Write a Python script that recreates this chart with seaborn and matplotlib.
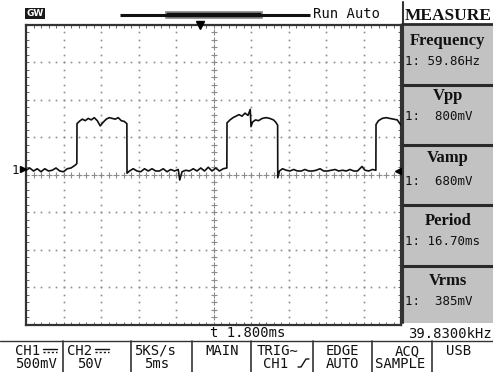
import numpy as np
import pandas as pd
import matplotlib
matplotlib.use("Agg")
import matplotlib.pyplot as plt
import seaborn as sns
from matplotlib.patches import Rectangle

# ---------------- data (time in ms, voltage in V) ----------------
t_base1 = [0.0, 0.5, 1.0, 1.5, 2.0, 2.5, 3.0, 3.5, 4.0, 4.5, 5.0, 5.5, 6.0, 6.3, 6.6, 6.78]
v_base1 = [0.06, 0.09, 0.05, 0.08, 0.04, 0.08, 0.05, 0.06, 0.09, 0.05, 0.04, 0.08, 0.09, 0.11, 0.13, 0.15]

t_pulse1 = [6.80, 7.1, 7.5, 7.9, 8.3, 8.7, 9.1, 9.5, 9.9, 10.3, 10.7, 11.1, 11.5, 11.9, 12.3, 12.7, 13.1, 13.45]
v_pulse1 = [0.68, 0.71, 0.74, 0.72, 0.75, 0.73, 0.76, 0.72, 0.65, 0.70, 0.74, 0.76, 0.75, 0.74, 0.76, 0.72, 0.71, 0.68]

t_base2 = [13.47, 13.8, 14.3, 14.8, 15.3, 15.8, 16.3, 16.8, 17.3, 17.8, 18.3, 18.8, 19.3, 19.8, 20.3,
           20.5, 20.8, 21.3, 21.8, 22.3, 22.8, 23.3, 23.8, 24.3, 24.8, 25.3, 25.8, 26.3, 26.78]
v_base2 = [0.02, 0.05, 0.08, 0.05, 0.04, 0.08, 0.05, 0.08, 0.05, 0.05, 0.08, 0.04, 0.07, 0.05, 0.07,
           -0.07, 0.04, 0.06, 0.05, 0.08, 0.05, 0.09, 0.05, 0.10, 0.05, 0.09, 0.05, 0.08, 0.09]

t_pulse2 = [26.80, 27.2, 27.6, 28.0, 28.4, 28.8, 29.2, 29.6, 29.9, 30.0, 30.2, 30.6, 31.0, 31.5, 32.0, 32.5, 33.0, 33.3, 33.55]
v_pulse2 = [0.69, 0.73, 0.76, 0.78, 0.80, 0.78, 0.82, 0.79, 0.87, 0.64, 0.70, 0.73, 0.72, 0.75, 0.76, 0.75, 0.73, 0.70, 0.66]

t_base3 = [33.57, 33.8, 34.2, 34.7, 35.2, 35.7, 36.2, 36.7, 37.2, 37.7, 38.2, 38.7, 39.2, 39.7, 40.2, 40.7, 41.2,
           41.7, 42.2, 42.7, 43.2, 43.7, 44.2, 44.8, 45.2, 45.7, 46.2, 46.65]
v_base3 = [-0.04, 0.05, 0.08, 0.06, 0.05, 0.07, 0.05, 0.05, 0.07, 0.05, 0.05, 0.06, 0.08, 0.05, 0.05, 0.06, 0.07,
           0.05, 0.06, 0.05, 0.07, 0.05, 0.05, 0.11, 0.06, 0.05, 0.07, 0.06]

t_pulse3 = [46.67, 47.0, 47.5, 48.0, 48.5, 49.0, 49.5, 50.0]
v_pulse3 = [0.67, 0.72, 0.75, 0.76, 0.75, 0.74, 0.73, 0.66]

trigger_pos_ms = 23.2     # 1.800 ms left of centre
trigger_level_v = 0.05
ground_level_v = 0.07

measure_titles = ["Frequency", "Vpp", "Vamp", "Period", "Vrms"]
measure_values = ["1: 59.86Hz", "1:  800mV", "1:  680mV", "1: 16.70ms", "1:  385mV"]

bottom_top = ["CH1", "CH2", "5KS/s", "MAIN", "TRIG\u223c", "EDGE", "ACQ", "USB"]
bottom_bot = ["500mV", "50V", "5ms", "", "CH1", "AUTO", "SAMPLE", ""]

# ---------------- figure ----------------
sns.set_theme(style="white")
plt.rcParams["font.family"] = ["DejaVu Sans"]
MONO = ["DejaVu Sans Mono", "DejaVu Sans"]
SERIF = ["Liberation Serif", "DejaVu Serif"]

W, H = 493, 372
fig = plt.figure(figsize=(W / 100, H / 100), dpi=100)
fig.patch.set_facecolor("white")

ax = fig.add_axes([26 / W, 1 - 325 / H, 375 / W, 300.5 / H])
ax.set_facecolor("white")
ax.set_xlim(0, 50)
ax.set_ylim(-2, 2)

# graticule
dot_c = "#8c8c8c"
yy = np.arange(-2, 2.001, 0.1)
xx = np.arange(0, 50.001, 1.0)
for xv in [5, 10, 15, 20, 30, 35, 40, 45]:
    ax.plot(np.full_like(yy, xv), yy, ls="none", marker="s", ms=1.2, color=dot_c, mew=0, zorder=1)
for yv in [-1.5, -1.0, -0.5, 0.5, 1.0, 1.5]:
    ax.plot(xx, np.full_like(xx, yv), ls="none", marker="s", ms=1.2, color=dot_c, mew=0, zorder=1)
ax.plot(np.full_like(yy, 25), yy, ls="none", marker="+", ms=4, mew=0.8, color=dot_c, zorder=1)
ax.plot(xx, np.zeros_like(xx), ls="none", marker="+", ms=4, mew=0.8, color=dot_c, zorder=1)

for s in ax.spines.values():
    s.set_color("#333333")
    s.set_linewidth(1.6)
ax.set_xticks(np.arange(0, 50.001, 1.0))
ax.set_yticks(np.arange(-2, 2.001, 0.1))
ax.tick_params(direction="in", length=2.5, width=0.7, color="#666666",
               top=True, right=True, bottom=True, left=True,
               labelbottom=False, labelleft=False)
ax.grid(False)

# trace
t_all = t_base1 + t_pulse1 + t_base2 + t_pulse2 + t_base3 + t_pulse3
v_all = v_base1 + v_pulse1 + v_base2 + v_pulse2 + v_base3 + v_pulse3
df = pd.DataFrame({"time_ms": t_all, "volt": v_all})
sns.lineplot(data=df, x="time_ms", y="volt", ax=ax, estimator=None, sort=False,
             color="#111111", lw=1.2, zorder=4)
ax.set_xlabel("")
ax.set_ylabel("")

# markers
ax.plot(trigger_pos_ms, 2.0, marker="v", ms=6, color="black", clip_on=False, zorder=6)
ax.plot(-0.35, ground_level_v, marker=">", ms=5, color="black", clip_on=False, zorder=6)
ax.plot(49.7, trigger_level_v, marker="<", ms=6, color="black", clip_on=False, zorder=6)

# ---------------- overlay in pixel coordinates ----------------
ov = fig.add_axes([0, 0, 1, 1])
ov.set_xlim(0, W)
ov.set_ylim(H, 0)
ov.axis("off")

ov.text(15, 171, "1", family=MONO, fontsize=9, ha="center", va="center", color="#111")

# top bar
ov.add_patch(Rectangle((25, 8), 20, 11, facecolor="#1a1a1a", edgecolor="none"))
ov.text(35, 13.8, "GW", family=["DejaVu Sans"], fontsize=6.5, fontweight="bold",
        color="white", ha="center", va="center")
ov.plot([120, 310], [14.8, 14.8], color="#111", lw=2.2, solid_capstyle="butt")
ov.add_patch(Rectangle((166, 11.5), 96, 6.5, facecolor="#111", edgecolor="#888", lw=1.2))
ov.text(313, 18.5, "Run Auto", family=MONO, fontsize=10, ha="left", va="baseline", color="#111")

# right measure panel
ov.add_patch(Rectangle((403, 24), 90, 299, facecolor="#c2c2c2", edgecolor="none"))
ov.plot([402.5, 402.5], [2, 323], color="#333", lw=1.5)
ov.plot([402, 493], [23.5, 23.5], color="#2a2a2a", lw=2.0)
for yl in [84.5, 144.5, 204.5, 266]:
    ov.plot([403, 493], [yl, yl], color="#2a2a2a", lw=2.2)
ov.text(448, 20, "MEASURE", family=SERIF, fontsize=12.5, fontweight="bold",
        ha="center", va="baseline", color="#111")
title_base = [45, 100, 162, 225, 285]
value_base = [65, 120, 185, 245, 305]
for ttl, val, tb, vb in zip(measure_titles, measure_values, title_base, value_base):
    ov.text(448, tb, ttl, family=SERIF, fontsize=12, fontweight="bold",
            ha="center", va="baseline", color="#111")
    ov.text(405, vb, val, family=MONO, fontsize=9, ha="left", va="baseline", color="#111")

# status line
ov.text(210, 337, "t 1.800ms", family=MONO, fontsize=10, ha="left", va="baseline", color="#111")
ov.text(492, 338, "39.8300kHz", family=MONO, fontsize=10, ha="right", va="baseline", color="#111")

# bottom menu
ov.plot([0, 493], [340.5, 340.5], color="#333", lw=1.0)
for xs in [63, 131, 192, 251, 313, 372, 432]:
    ov.plot([xs, xs], [340.5, 372], color="#333", lw=1.2)
top_x = [15, 67, 155, 222, 257, 342, 407, 459]
top_ha = ["left", "left", "center", "center", "left", "center", "center", "center"]
bot_x = [15, 90, 157, 222, 263, 342, 400, 459]
bot_ha = ["left", "center", "center", "center", "left", "center", "center", "center"]
for s1, s2, x1, h1, x2, h2 in zip(bottom_top, bottom_bot, top_x, top_ha, bot_x, bot_ha):
    ov.text(x1, 355, s1, family=MONO, fontsize=10, ha=h1, va="baseline", color="#111")
    if s2:
        ov.text(x2, 368, s2, family=MONO, fontsize=10, ha=h2, va="baseline", color="#111")
# DC coupling symbols
for x0 in [43, 95]:
    ov.plot([x0, x0 + 14], [348.5, 348.5], color="#111", lw=1.0)
    ov.plot([x0, x0 + 14], [351.5, 351.5], color="#111", lw=1.0, ls=(0, (1.5, 1.5)))
# rising edge symbol
ov.plot([298, 301, 306, 309], [367, 367, 359, 359], color="#111", lw=1.0)

fig.savefig("out.png", dpi=100)
